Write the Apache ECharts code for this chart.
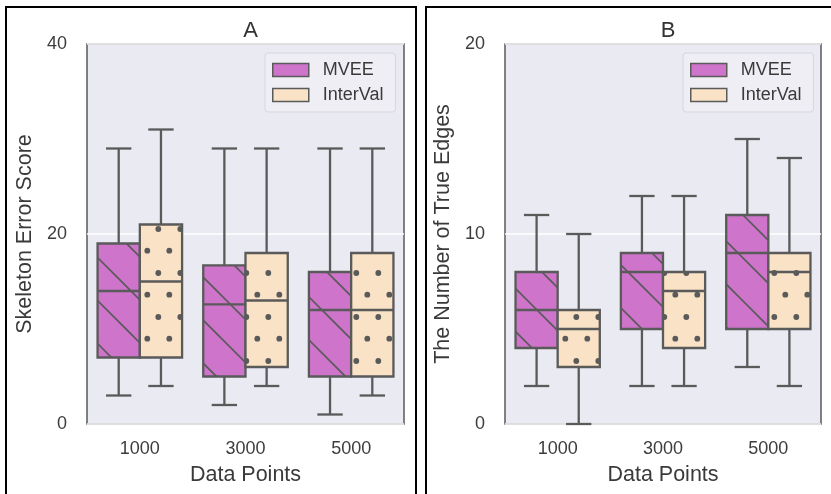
<!DOCTYPE html>
<html>
<head>
<meta charset="utf-8">
<script src="https://cdn.jsdelivr.net/npm/echarts@6/dist/echarts.min.js"></script>
<style>
  html, body { margin: 0; padding: 0; background: #ffffff; }
  #chart { width: 831px; height: 494px; }
</style>
</head>
<body>
<div id="chart"></div>
<script>
// categories and box values: [min, q1, median, q3, max]
var categories = ['1000', '3000', '5000'];
var mveeA = [[3, 7, 14, 19, 29], [2, 5, 12.6, 16.7, 29], [1, 5, 12, 16, 29]];
var intervalA = [[4, 7, 15, 21, 31], [4, 6, 13, 18, 29], [3, 5, 12, 18, 29]];
var mveeB = [[2, 4, 6, 8, 11], [2, 5, 8, 9, 12], [3, 5, 9, 11, 15]];
var intervalB = [[0, 3, 5, 6, 10], [2, 4, 7, 8, 12], [2, 5, 8, 9, 14]];
var yTicksA = [0, 20, 40];
var yTicksB = [0, 10, 20];

var mveeColor = '#CE74CB';
var intervalColor = '#F9E2C5';
var edgeColor = '#5a5a5a';
var fontName = 'Liberation Sans';

//斜线填充
function makeStripe(fill) {
  var p = 43;
  var c = document.createElement('canvas');
  c.width = p; c.height = p;
  var g = c.getContext('2d');
  g.fillStyle = fill;
  g.fillRect(0, 0, p, p);
  g.strokeStyle = edgeColor;
  g.lineWidth = 1.6;
  g.beginPath();
  [-12 - p, -12, 31].forEach(function (k) {
    g.moveTo(-5, -5 + k);
    g.lineTo(p + 5, p + 5 + k);
  });
  g.stroke();
  return { image: c, repeat: 'repeat' };
}

//圆点填充
function makeDots(fill) {
  var c = document.createElement('canvas');
  c.width = 22; c.height = 44;
  var g = c.getContext('2d');
  g.fillStyle = fill;
  g.fillRect(0, 0, 22, 44);
  g.fillStyle = edgeColor;
  [[4.3, 9], [15.3, 30.7]].forEach(function (d) {
    g.beginPath();
    g.arc(d[0], d[1], 2.9, 0, Math.PI * 2);
    g.fill();
  });
  return { image: c, repeat: 'repeat' };
}

var stripeFill = makeStripe(mveeColor);
var dotFill = makeDots(intervalColor);

function toData(list) {
  return list.map(function (v, i) { return [i].concat(v); });
}

function boxRenderer(shift, fill) {
  return function (params, api) {
    var band = api.size([1, 0])[0];
    var w = band * 0.4;
    var cat = api.value(0);
    var cx = api.coord([cat, 0])[0] + shift * band;
    var yMin = api.coord([cat, api.value(1)])[1];
    var yQ1 = api.coord([cat, api.value(2)])[1];
    var yMed = api.coord([cat, api.value(3)])[1];
    var yQ3 = api.coord([cat, api.value(4)])[1];
    var yMax = api.coord([cat, api.value(5)])[1];
    var cap = w * 0.3;
    var line = { stroke: edgeColor, lineWidth: 2.3 };
    return {
      type: 'group',
      children: [
        { type: 'line', shape: { x1: cx, y1: yMax, x2: cx, y2: yQ3 }, style: line },
        { type: 'line', shape: { x1: cx, y1: yQ1, x2: cx, y2: yMin }, style: line },
        { type: 'line', shape: { x1: cx - cap, y1: yMax, x2: cx + cap, y2: yMax }, style: line },
        { type: 'line', shape: { x1: cx - cap, y1: yMin, x2: cx + cap, y2: yMin }, style: line },
        { type: 'rect', shape: { x: cx - w / 2, y: yQ3, width: w, height: yQ1 - yQ3 },
          style: { fill: fill, stroke: edgeColor, lineWidth: 2.3 } },
        { type: 'line', shape: { x1: cx - w / 2, y1: yMed, x2: cx + w / 2, y2: yMed }, style: line }
      ]
    };
  };
}

function legendFor(left) {
  return {
    orient: 'vertical',
    left: left,
    top: 53,
    padding: [7, 12, 7, 7],
    itemWidth: 36,
    itemHeight: 13,
    itemGap: 5,
    backgroundColor: '#EEEEF4',
    borderColor: '#D6D6DE',
    borderWidth: 1,
    borderRadius: 3,
    textStyle: { fontFamily: fontName, fontSize: 18, lineHeight: 20, color: '#3a3a3a', padding: [0, 0, 0, 9] },
    data: [
      { name: 'MVEE', icon: 'rect', itemStyle: { color: mveeColor, borderColor: edgeColor, borderWidth: 1.5 } },
      { name: 'InterVal', icon: 'rect', itemStyle: { color: intervalColor, borderColor: edgeColor, borderWidth: 1.5 } }
    ]
  };
}

function yAxisFor(idx, ticks, name) {
  return {
    gridIndex: idx,
    type: 'value',
    min: ticks[0],
    max: ticks[ticks.length - 1],
    interval: ticks[1] - ticks[0],
    axisLine: { show: false },
    axisTick: { show: false },
    splitLine: { lineStyle: { color: '#ffffff', width: 1.5 } },
    axisLabel: { fontFamily: fontName, fontSize: 18, color: '#3d3d3d', margin: 20 },
    name: name,
    nameLocation: 'middle',
    nameGap: 51,
    nameTextStyle: { fontFamily: fontName, fontSize: 21.5, color: '#3a3a3a' }
  };
}

function xAxisFor(idx) {
  return {
    gridIndex: idx,
    type: 'category',
    data: categories,
    axisLine: { show: false },
    axisTick: { show: false },
    axisLabel: { fontFamily: fontName, fontSize: 18, color: '#3d3d3d', margin: 16 },
    name: 'Data Points',
    nameLocation: 'middle',
    nameGap: 40,
    nameTextStyle: { fontFamily: fontName, fontSize: 21.5, color: '#3a3a3a' }
  };
}

function boxSeries(name, idx, list, shift, fill, color) {
  return {
    name: name,
    type: 'custom',
    xAxisIndex: idx,
    yAxisIndex: idx,
    itemStyle: { color: color },
    encode: { x: 0, y: [1, 2, 3, 4, 5] },
    renderItem: boxRenderer(shift, fill),
    data: toData(list)
  };
}

var gridStyle = {
  show: true,
  top: 44,
  height: 380,
  backgroundColor: '#EAEAF2',
  borderColor: '#5a5a5a',
  borderWidth: 1.5
};

var myChart = echarts.init(document.getElementById('chart'));
var option = {
  animation: false,
  title: [
    { text: 'A', left: 245.5, top: 15, textAlign: 'center',
      textStyle: { fontFamily: fontName, fontSize: 22, fontWeight: 'normal', color: '#333' } },
    { text: 'B', left: 663, top: 15, textAlign: 'center',
      textStyle: { fontFamily: fontName, fontSize: 22, fontWeight: 'normal', color: '#333' } }
  ],
  legend: [legendFor(265), legendFor(683)],
  grid: [
    Object.assign({ left: 87, width: 317 }, gridStyle),
    Object.assign({ left: 505, width: 316 }, gridStyle)
  ],
  xAxis: [xAxisFor(0), xAxisFor(1)],
  yAxis: [
    yAxisFor(0, yTicksA, 'Skeleton Error Score'),
    yAxisFor(1, yTicksB, 'The Number of True Edges')
  ],
  graphic: [
    { type: 'rect', shape: { x: 6, y: 7, width: 410, height: 500 },
      style: { fill: 'none', stroke: '#000', lineWidth: 2 } },
    { type: 'rect', shape: { x: 426, y: 7, width: 420, height: 500 },
      style: { fill: 'none', stroke: '#000', lineWidth: 2 } }
  ],
  series: [
    boxSeries('MVEE', 0, mveeA, -0.2, stripeFill, mveeColor),
    boxSeries('InterVal', 0, intervalA, 0.2, dotFill, intervalColor),
    boxSeries('MVEE', 1, mveeB, -0.2, stripeFill, mveeColor),
    boxSeries('InterVal', 1, intervalB, 0.2, dotFill, intervalColor)
  ]
};
myChart.setOption(option);
</script>
</body>
</html>
